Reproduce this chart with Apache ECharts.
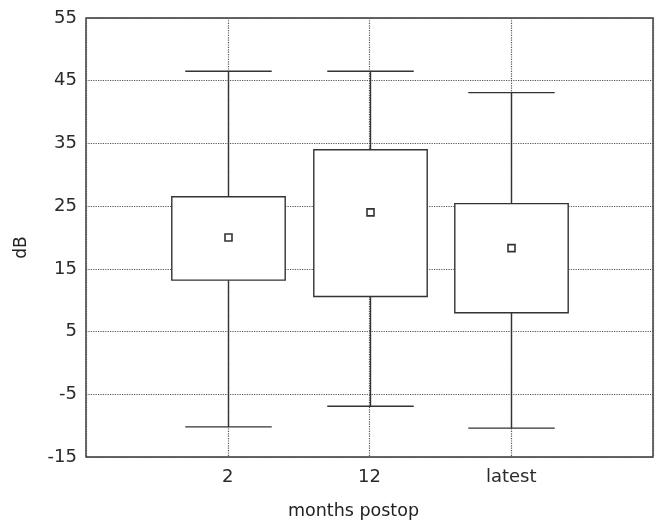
<!DOCTYPE html>
<html>
<head>
<meta charset="utf-8">
<script src="https://cdn.jsdelivr.net/npm/echarts@6/dist/echarts.min.js"></script>
<style>
html,body{margin:0;padding:0;background:#fff;}
#main{width:658px;height:520px;}
</style>
</head>
<body>
<div id="main"></div>
<script>
const categories = ['2', '12', 'latest'];
const whiskerLow = [-10.2, -6.9, -10.4];
const q1 = [13.2, 10.6, 8.0];
const q3 = [26.5, 34.0, 25.4];
const whiskerHigh = [46.5, 46.5, 43.1];
const means = [20.0, 24.0, 18.3];
const yTicks = [-15, -5, 5, 15, 25, 35, 45, 55];

const data = categories.map((c, i) => [i + 1, whiskerLow[i], q1[i], q3[i], whiskerHigh[i], means[i]]);

const FONT = '"DejaVu Sans", "Liberation Sans", Arial, sans-serif';
const LINE = '#333';

const chart = echarts.init(document.getElementById('main'), null, {renderer: 'canvas'});

function renderItem(params, api) {
  const x = api.value(0);
  const lo = api.coord([x, api.value(1)]);
  const b1 = api.coord([x, api.value(2)]);
  const b3 = api.coord([x, api.value(3)]);
  const hi = api.coord([x, api.value(4)]);
  const mn = api.coord([x, api.value(5)]);
  const unit = api.size([1, 0])[0];
  const boxW = unit * 0.80;
  const capW = unit * 0.61;
  const cx = Math.round(lo[0]) + 0.5;
  const style = {stroke: LINE, lineWidth: 1.4, fill: null};
  return {
    type: 'group',
    children: [
      {type: 'line', shape: {x1: cx, y1: lo[1], x2: cx, y2: b1[1]}, style: style},
      {type: 'line', shape: {x1: cx, y1: b3[1], x2: cx, y2: hi[1]}, style: style},
      {type: 'line', shape: {x1: cx - capW / 2, y1: lo[1], x2: cx + capW / 2, y2: lo[1]}, style: style},
      {type: 'line', shape: {x1: cx - capW / 2, y1: hi[1], x2: cx + capW / 2, y2: hi[1]}, style: style},
      {type: 'rect', shape: {x: cx - boxW / 2, y: b3[1], width: boxW, height: b1[1] - b3[1]},
        style: {stroke: LINE, lineWidth: 1.4, fill: '#fff'}},
      {type: 'rect', shape: {x: cx - 3.5, y: mn[1] - 3.5, width: 7, height: 7},
        style: {stroke: LINE, lineWidth: 1.6, fill: '#fff'}}
    ]
  };
}

chart.setOption({
  animation: false,
  backgroundColor: '#fff',
  grid: {left: 86, right: 5, top: 18, bottom: 63, outerBoundsMode: 'none', containLabel: false,
    show: true, borderColor: LINE, borderWidth: 1.4, backgroundColor: 'transparent'},
  xAxis: {
    type: 'value', min: 0, max: 4, interval: 1,
    name: 'months postop', nameLocation: 'middle', nameGap: 45,
    nameTextStyle: {fontFamily: FONT, fontSize: 17.5, color: '#222', padding: [0, 32, 0, 0]},
    axisLine: {show: false}, axisTick: {show: false},
    axisLabel: {fontFamily: FONT, fontSize: 18, color: '#2a2a2a', margin: 11,
      formatter: v => categories[v - 1] || ''},
    splitLine: {show: true, lineStyle: {type: 'dotted', color: '#555', width: 1.2}}
  },
  yAxis: {
    type: 'value', min: yTicks[0], max: yTicks[yTicks.length - 1], interval: 10,
    name: 'dB', nameLocation: 'middle', nameGap: 56, nameRotate: 90,
    nameTextStyle: {fontFamily: FONT, fontSize: 17, color: '#222', padding: [0, 20, 0, 0]},
    axisLine: {show: false}, axisTick: {show: false},
    axisLabel: {fontFamily: FONT, fontSize: 18, color: '#2a2a2a', margin: 9},
    splitLine: {show: true, lineStyle: {type: 'dotted', color: '#555', width: 1.2}}
  },
  series: [{
    type: 'custom',
    renderItem: renderItem,
    encode: {x: 0, y: [1, 2, 3, 4, 5]},
    data: data,
    z: 5
  }]
});
</script>
</body>
</html>
